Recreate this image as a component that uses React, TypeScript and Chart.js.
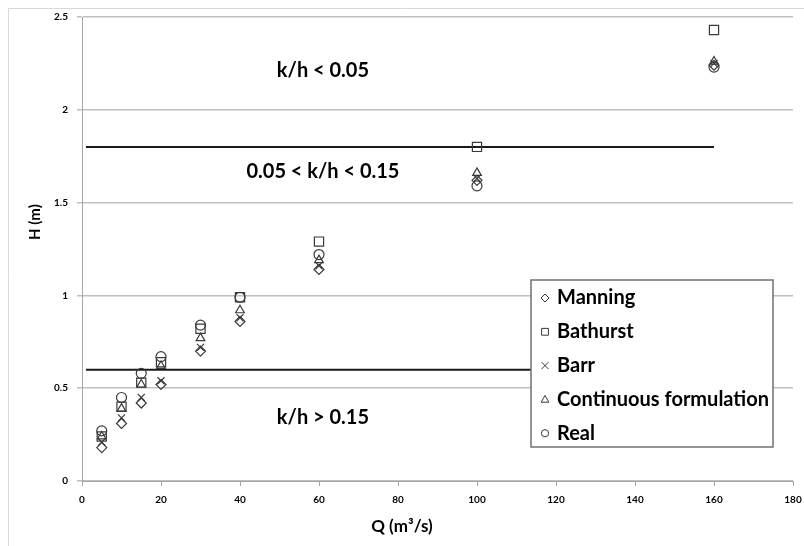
import { useEffect, useRef } from 'react';
import { Chart, registerables } from 'chart.js';

Chart.register(...registerables);

// ---- data ----
const Q = [5, 10, 15, 20, 30, 40, 60, 100, 160];
const manning = [0.18, 0.31, 0.42, 0.52, 0.70, 0.86, 1.14, 1.62, 2.24];
const bathurst = [0.24, 0.40, 0.53, 0.64, 0.82, 0.99, 1.29, 1.80, 2.43];
const barr = [0.21, 0.34, 0.45, 0.54, 0.72, 0.88, 1.16, 1.63, 2.25];
const continuous = [0.24, 0.39, 0.52, 0.62, 0.77, 0.92, 1.19, 1.66, 2.26];
const real = [0.27, 0.45, 0.58, 0.67, 0.84, 0.99, 1.22, 1.59, 2.23];

const seriesNames = ['Manning', 'Bathurst', 'Barr', 'Continuous formulation', 'Real'];
const seriesValues = [manning, bathurst, barr, continuous, real];
const seriesMarkers = ['rectRot', 'rect', 'crossRot', 'triangle', 'circle'];

const boundaryQ = [1, 160];
const upperBoundary = [1.8, 1.8];
const lowerBoundary = [0.6, 0.6];

const regimeLabels = ['k/h < 0.05', '0.05 < k/h < 0.15', 'k/h > 0.15'];
const regimeAnchorQ = [61, 61, 61];
const regimeAnchorH = [2.21, 1.67, 0.34];

const xTitle = 'Q (m³/s)';
const yTitle = 'H (m)';

const FONT = 'Lato, "Liberation Sans", sans-serif';
const MARKER = '#3a3a3a';

const markerRadius: Record<string, number> = {
  rectRot: 5,
  rect: 6.5,
  crossRot: 5,
  triangle: 5,
  circle: 5,
};

function drawMarker(ctx: CanvasRenderingContext2D, style: string, cx: number, cy: number, r: number) {
  ctx.beginPath();
  if (style === 'rectRot') {
    ctx.moveTo(cx, cy - r);
    ctx.lineTo(cx + r, cy);
    ctx.lineTo(cx, cy + r);
    ctx.lineTo(cx - r, cy);
    ctx.closePath();
  } else if (style === 'rect') {
    const s = r * 0.85;
    ctx.rect(cx - s, cy - s, 2 * s, 2 * s);
  } else if (style === 'crossRot') {
    const s = r * 0.85;
    ctx.moveTo(cx - s, cy - s);
    ctx.lineTo(cx + s, cy + s);
    ctx.moveTo(cx + s, cy - s);
    ctx.lineTo(cx - s, cy + s);
  } else if (style === 'triangle') {
    ctx.moveTo(cx, cy - r);
    ctx.lineTo(cx + r * 0.95, cy + r * 0.7);
    ctx.lineTo(cx - r * 0.95, cy + r * 0.7);
    ctx.closePath();
  } else {
    ctx.arc(cx, cy, r * 0.9, 0, Math.PI * 2);
  }
  ctx.stroke();
}

const decorPlugin = {
  id: 'decor',
  beforeDraw(chart: any) {
    const ctx = chart.ctx;
    ctx.save();
    ctx.fillStyle = '#ffffff';
    ctx.fillRect(0, 0, chart.width, chart.height);
    ctx.strokeStyle = '#d9d9d9';
    ctx.lineWidth = 1;
    ctx.beginPath();
    ctx.moveTo(0.5, chart.height);
    ctx.lineTo(0.5, 0.5);
    ctx.lineTo(chart.width, 0.5);
    ctx.stroke();
    ctx.restore();
  },
  afterDraw(chart: any) {
    const ctx = chart.ctx;
    const x = chart.scales.x;
    const y = chart.scales.y;
    const area = chart.chartArea;
    ctx.save();
    // regime annotations
    ctx.fillStyle = '#000';
    ctx.font = `bold 20px ${FONT}`;
    ctx.textAlign = 'center';
    ctx.textBaseline = 'middle';
    regimeLabels.forEach((t, i) => {
      ctx.fillText(t, x.getPixelForValue(regimeAnchorQ[i]), y.getPixelForValue(regimeAnchorH[i]));
    });
    // axis titles
    ctx.font = `bold 17px ${FONT}`;
    ctx.fillText(xTitle, x.getPixelForValue(81), area.bottom + 46);
    ctx.save();
    ctx.translate(27, y.getPixelForValue(1.395));
    ctx.rotate(-Math.PI / 2);
    ctx.font = `bold 15px ${FONT}`;
    ctx.fillText(yTitle, 0, 0);
    ctx.restore();
    // legend
    const lx = 523, ly = 272, lw = 242, lh = 167;
    ctx.fillStyle = '#ffffff';
    ctx.fillRect(lx, ly, lw, lh);
    ctx.strokeStyle = '#707070';
    ctx.lineWidth = 1.5;
    ctx.strokeRect(lx, ly, lw, lh);
    ctx.font = `bold 20px ${FONT}`;
    ctx.textAlign = 'left';
    seriesNames.forEach((name, i) => {
      const cy = ly + 18 + i * 33.8;
      ctx.strokeStyle = MARKER;
      ctx.lineWidth = 1;
      drawMarker(ctx, seriesMarkers[i], lx + 14, cy, 4);
      ctx.fillStyle = '#000';
      ctx.fillText(name, lx + 26, cy);
    });
    ctx.restore();
  },
};

const zeroPadding = (s: any) => {
  s.paddingTop = 0;
  s.paddingBottom = 0;
  s.paddingLeft = 0;
  s.paddingRight = 0;
};

export default function App() {
  const ref = useRef<HTMLCanvasElement | null>(null);

  useEffect(() => {
    if (!ref.current) return;
    const markerSets = seriesNames.map((name, i) => ({
      label: name,
      data: Q.map((q, j) => ({ x: q, y: seriesValues[i][j] })),
      showLine: false,
      pointStyle: seriesMarkers[i],
      pointRadius: markerRadius[seriesMarkers[i]],
      pointBorderWidth: 1.2,
      borderColor: MARKER,
      backgroundColor: 'rgba(0,0,0,0)',
      order: 0,
    }));
    const lineSets = [upperBoundary, lowerBoundary].map((vals, k) => ({
      label: k === 0 ? 'upper' : 'lower',
      data: boundaryQ.map((q, j) => ({ x: q, y: vals[j] })),
      showLine: true,
      pointRadius: 0,
      borderColor: '#1a1a1a',
      borderWidth: 2,
      order: 1,
    }));

    const chart = new Chart(ref.current, {
      type: 'scatter',
      data: { datasets: [...lineSets, ...markerSets] as any },
      options: {
        animation: false,
        responsive: false,
        devicePixelRatio: 1,
        layout: { padding: { top: 9, right: 11, left: 0, bottom: 0 } },
        plugins: {
          legend: { display: false },
          tooltip: { enabled: false },
        },
        scales: {
          x: {
            type: 'linear',
            min: 0,
            max: 180,
            ticks: {
              stepSize: 20,
              padding: 8,
              color: '#000',
              font: { family: FONT, size: 10, weight: 'bold' },
              maxRotation: 0,
            },
            grid: {
              drawOnChartArea: false,
              drawTicks: true,
              tickLength: 5,
              color: '#a6a6a6',
            },
            border: { display: true, color: '#a6a6a6', width: 1 },
            afterFit: (s: any) => {
              s.height = 65;
              zeroPadding(s);
            },
          },
          y: {
            type: 'linear',
            min: 0,
            max: 2.5,
            ticks: {
              stepSize: 0.5,
              padding: 9,
              color: '#000',
              font: { family: FONT, size: 10, weight: 'bold' },
              callback: (v: any) => String(v),
            },
            grid: {
              color: '#bfbfbf',
              lineWidth: 1.5,
              drawTicks: true,
              tickLength: 5,
            },
            border: { display: true, color: '#a6a6a6', width: 1 },
            afterFit: (s: any) => {
              s.width = 74;
              zeroPadding(s);
            },
          },
        },
      } as any,
      plugins: [decorPlugin],
    });
    return () => chart.destroy();
  }, []);

  return (
    <div style={{ position: 'fixed', left: 8, top: 8, width: 796, height: 538 }}>
      <canvas ref={ref} width={796} height={538} style={{ display: 'block' }} />
    </div>
  );
}
